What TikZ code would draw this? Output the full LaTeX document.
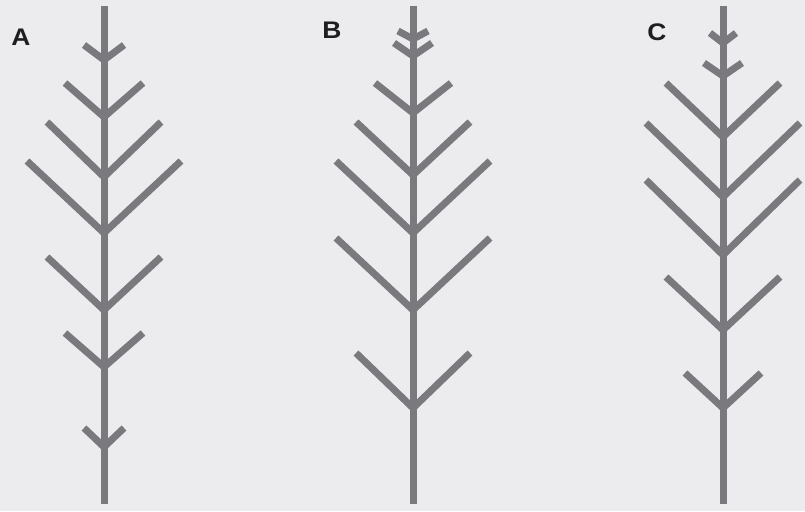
\documentclass[tikz,border=0pt]{standalone}
\usepackage{fontspec}
\setmainfont{Liberation Sans}
\usepackage{tikz}
\usetikzlibrary{positioning}
\definecolor{stemgray}{RGB}{122,122,126}
\definecolor{papergray}{RGB}{236,236,238}
\definecolor{inkblack}{RGB}{30,30,32}

\tikzset{
  stem/.style={line width=7pt, stemgray},
  twig/.style={line width=7pt, stemgray, line join=miter},
  panellabel/.style={font=\fontsize{24}{26}\selectfont\bfseries, text=inkblack, inner sep=0pt, xscale=1.1, transform shape}
}

\begin{document}
\begin{tikzpicture}[x=1pt, y=-1pt]
    % Paper
    \fill[papergray] (0,0) rectangle (805,511);
    \useasboundingbox (0,0) rectangle (805,511);

    % Tree A
    \begin{scope}[shift={(104,0)}]
        \draw[stem] (0,6) -- (0,504);
        \foreach \y/\w/\h in {60/20/15, 117/39/34, 177/57/55, 233/77/72, 310/57/53, 367/39/34, 447/20/19} {
            \draw[twig] (-\w,{\y-\h}) -- (0,\y) -- (\w,{\y-\h});
        }
    \end{scope}

    % Tree B
    \begin{scope}[shift={(413,0)}]
        \draw[stem] (0,6) -- (0,504);
        \foreach \y/\w/\h in {39/15/8, 56/19/13, 113/38/30, 175/57/53, 233/77/72, 310/77/72, 408/57/55} {
            \draw[twig] (-\w,{\y-\h}) -- (0,\y) -- (\w,{\y-\h});
        }
    \end{scope}

    % Tree C
    \begin{scope}[shift={(723,0)}]
        \draw[stem] (0,6) -- (0,504);
        \foreach \y/\w/\h in {43/13/10, 76/19/13, 137/57/54, 197/77/74, 255/77/75, 330/57/53, 408/38/35} {
            \draw[twig] (-\w,{\y-\h}) -- (0,\y) -- (\w,{\y-\h});
        }
    \end{scope}

    % Labels
    \node[panellabel] (labA) at (21,37) {A};
    \node[panellabel] (labB) at (332,30) {B};
    \node[panellabel] (labC) at (657,32) {C};
\end{tikzpicture}
\end{document}
